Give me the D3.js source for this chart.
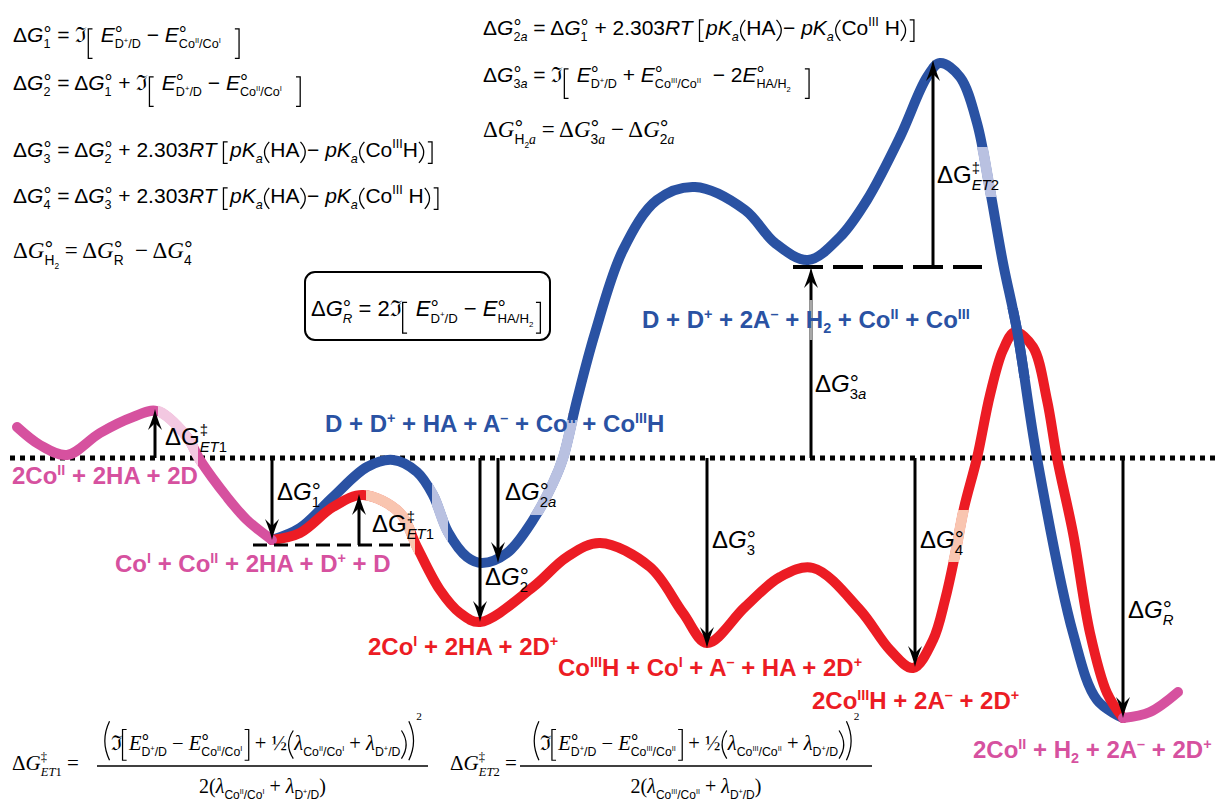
<!DOCTYPE html>
<html>
<head>
<meta charset="utf-8">
<title>Free energy diagram</title>
<script src="https://cdn.jsdelivr.net/npm/d3@7"></script>
<style>
  html, body { margin: 0; padding: 0; background: #fff; }
  svg text { white-space: pre; }
</style>
</head>
<body>
<script>
'use strict';

// [reaction coordinate, free energy] with 0 = starting state (dotted line)
const pinkStart = [[1.7, 3.1], [4.0, 1.3], [6.7, 0.3], [10.0, 2.5], [13.3, 4.1], [15.7, 4.7],
  [18.7, 2.1], [20.0, -0.2], [22.7, -3.9], [24.7, -6.2], [27.2, -8.2]];
const pinkEnd = [[112.3, -26.0], [115.0, -25.4], [117.8, -23.4]];
const redPath = [[27.2, -8.2], [30.0, -7.5], [33.3, -4.9], [36.3, -3.7], [40.0, -5.5], [41.7, -8.9],
  [44.0, -13.2], [46.0, -15.5], [48.0, -16.4], [53.3, -12.9], [56.7, -9.9], [60.0, -8.5],
  [65.0, -10.9], [68.3, -15.5], [70.7, -18.5], [74.5, -14.9], [78.0, -11.9], [81.3, -11.0],
  [86.0, -15.2], [89.0, -19.2], [91.3, -21.0], [93.3, -18.2], [94.5, -14.2], [95.5, -9.7],
  [96.4, -5.0], [97.7, 0.0], [99.0, 6.3], [100.3, 10.8], [101.5, 12.6], [103.3, 11.1],
  [104.7, 5.8], [105.7, 0.0], [107.3, -7.5], [109.0, -17.5], [110.7, -23.5], [112.3, -26.0]];
const bluePath = [[27.2, -8.2], [30.0, -7.0], [33.3, -3.9], [36.7, -0.9], [39.3, -0.2], [41.7, -1.4],
  [43.3, -3.7], [44.8, -7.4], [46.7, -9.9], [48.2, -10.5], [50.7, -9.5], [53.3, -6.2],
  [55.3, -2.5], [56.3, 0.0], [57.7, 5.8], [59.5, 12.5], [62.3, 20.8], [65.7, 25.8],
  [69.5, 27.1], [74.5, 24.8], [77.5, 21.5], [80.8, 19.8], [84.0, 22.1], [86.7, 25.8],
  [90.0, 32.1], [92.7, 38.1], [94.0, 39.5], [96.0, 38.1], [97.7, 33.5], [99.0, 26.8],
  [100.3, 19.5], [101.7, 12.8], [103.7, 0.0], [107.3, -17.5], [109.7, -24.2], [112.3, -26.0]];

// transition-state stretches drawn in the pale tint
const lightSpans = [
  { curve: 'pink', x0: 15.8, x1: 19.8, e0: -3, e1: 7 },
  { curve: 'red', x0: 36.6, x1: 41.5, e0: -12, e1: 0 },
  { curve: 'blue', x0: 43.2, x1: 44.8, e0: -12, e1: 2 },
  { curve: 'blue', x0: 52.0, x1: 59.0, e0: -5.7, e1: 3.8 },
  { curve: 'red', x0: 94.0, x1: 97.5, e0: -10.4, e1: -5.2 },
  { curve: 'blue', x0: 97.0, x1: 100.5, e0: 26.1, e1: 31.1 }
];

const refLine = [1.0, 121.5];
const dashedRefs = [[25.3, 41.0, -8.7], [79.3, 98.2, 19.1]];

const arrows = [
  [15.5, 0, 4.9], [27.2, 0, -8.2], [35.9, -8.7, -3.6], [48.0, 0, -16.4], [49.8, 0, -10.5],
  [70.7, 0, -19.0], [91.5, 0, -20.9], [112.3, 0, -26.0], [81.1, 0, 19.1], [93.3, 19.1, 39.8]
];
const arrowGrey = [81.1, 11.8, 15.8];

const arrowLabels = [
  [String.raw`Δ\n{G}^{‡}_{\i{ET}1}`, 16.5, 1.3],
  [String.raw`Δ\i{G}^{°}_{1}`, 27.7, -4.2],
  [String.raw`Δ\n{G}^{‡}_{\i{ET}1}`, 37.2, -7.4],
  [String.raw`Δ\i{G}^{°}_{2\i{a}}`, 50.5, -4.2],
  [String.raw`Δ\i{G}^{°}_{2}`, 48.5, -12.7],
  [String.raw`Δ\i{G}^{°}_{3}`, 71.2, -9.0],
  [String.raw`Δ\i{G}^{°}_{4}`, 92.0, -9.0],
  [String.raw`Δ\i{G}^{°}_{\i{R}}`, 112.8, -16.0],
  [String.raw`Δ\i{G}^{°}_{3\i{a}}`, 81.5, 6.6],
  [String.raw`Δ\n{G}^{‡}_{\i{ET}2}`, 93.7, 27.5]
];

const species = [
  ['2Co^{II} + 2HA + 2D', 'pink', 1.2, -2.6],
  ['Co^{I} + Co^{II} + 2HA + D^{+} + D', 'pink', 11.5, -11.4],
  ['D + D^{+} + HA + A^{–} + Co^{II} + Co^{III}H', 'blue', 32.5, 2.6],
  ['2Co^{I} + 2HA + 2D^{+}', 'red', 36.8, -19.7],
  ['Co^{III}H + Co^{I} + A^{–} + HA + 2D^{+}', 'red', 55.8, -21.8],
  ['2Co^{III}H + 2A^{–} + 2D^{+}', 'red', 81.2, -25.1],
  ['2Co^{II} + H_{2} + 2A^{–} + 2D^{+}', 'pink', 97.3, -30.0],
  ['D + D^{+} + 2A^{–} + H_{2} + Co^{II} + Co^{III}', 'blue', 64.2, 13.0]
];

const leftEquations = [
  String.raw`Δ\i{G}^{°}_{1} = ℑ\D{[,0.62,0.78} \i{E}^{°}_{D^{+}/D} − \i{E}^{°}_{Co^{II}/Co^{I}}  \D{],0.62,0.78}`,
  String.raw`Δ\i{G}^{°}_{2} = Δ\i{G}^{°}_{1} + ℑ\D{[,0.62,0.78} \i{E}^{°}_{D^{+}/D} − \i{E}^{°}_{Co^{II}/Co^{I}}  \D{],0.62,0.78}`,
  String.raw`Δ\i{G}^{°}_{3} = Δ\i{G}^{°}_{2} + 2.303\i{RT} \D{[,0.72,0.3}\i{pK}_{\i{a}}\D{(,0.72,0.28}HA\D{),0.72,0.28}− \i{pK}_{\i{a}}\D{(,0.72,0.28}Co^{III}H\D{),0.72,0.28}\D{],0.72,0.3}`,
  String.raw`Δ\i{G}^{°}_{4} = Δ\i{G}^{°}_{3} + 2.303\i{RT} \D{[,0.72,0.3}\i{pK}_{\i{a}}\D{(,0.72,0.28}HA\D{),0.72,0.28}− \i{pK}_{\i{a}}\D{(,0.72,0.28}Co^{III} H\D{),0.72,0.28}\D{],0.72,0.3}`
];
const leftEquationSerif = String.raw`Δ\i{G}^{°}_{\s{H_{2}}} = Δ\i{G}^{°}_{\s{R}}  − Δ\i{G}^{°}_{\s{4}}`;
const rightEquations = [
  String.raw`Δ\i{G}^{°}_{2\i{a}} = Δ\i{G}^{°}_{1} + 2.303\i{RT} \D{[,0.72,0.3}\i{pK}_{\i{a}}\D{(,0.72,0.28}HA\D{),0.72,0.28}− \i{pK}_{\i{a}}\D{(,0.72,0.28}Co^{III} H\D{),0.72,0.28}\D{],0.72,0.3}`,
  String.raw`Δ\i{G}^{°}_{3\i{a}} = ℑ\D{[,0.62,0.78} \i{E}^{°}_{D^{+}/D} + \i{E}^{°}_{Co^{III}/Co^{II}}  − 2\i{E}^{°}_{HA/H_{2}}  \D{],0.62,0.78}`
];
const rightEquationSerif = String.raw`Δ\i{G}^{°}_{\s{H_{2}}\i{a}} = Δ\i{G}^{°}_{\s{3}\i{a}} − Δ\i{G}^{°}_{\s{2}\i{a}}`;
const boxEquation = String.raw`Δ\i{G}^{°}_{\i{R}} = 2ℑ\D{[,0.62,0.78} \i{E}^{°}_{D^{+}/D} − \i{E}^{°}_{HA/H_{2}}\D{],0.62,0.78}`;
const marcus = [
  {
    lhs: String.raw`Δ\i{G}^{‡}_{\i{ET}1} =`,
    num: String.raw`\D{(,1.4,0.5}ℑ\D{[,1.0,0.5}\i{E}^{°}_{\s{D^{+}/D}} − \i{E}^{°}_{\s{Co^{II}/Co^{I}}}\D{],1.0,0.5} + ½\D{(,0.95,0.42}\i{λ}_{\s{Co^{II}/Co^{I}}} + \i{λ}_{\s{D^{+}/D}}\D{),0.95,0.42}\D{),1.4,0.5}\H{2}`,
    den: String.raw`2(\i{λ}_{\s{Co^{II}/Co^{I}}} + \i{λ}_{\s{D^{+}/D}})`
  },
  {
    lhs: String.raw`Δ\i{G}^{‡}_{\i{ET}2} =`,
    num: String.raw`\D{(,1.4,0.5}ℑ\D{[,1.0,0.5}\i{E}^{°}_{\s{D^{+}/D}} − \i{E}^{°}_{\s{Co^{III}/Co^{II}}}\D{],1.0,0.5} + ½\D{(,0.95,0.42}\i{λ}_{\s{Co^{III}/Co^{II}}} + \i{λ}_{\s{D^{+}/D}}\D{),0.95,0.42}\D{),1.4,0.5}\H{2}`,
    den: String.raw`2(\i{λ}_{\s{Co^{III}/Co^{II}}} + \i{λ}_{\s{D^{+}/D}})`
  }
];

const colors = { pink: '#d6519f', red: '#ec1c24', blue: '#2a52a3' };
const tints = { pink: '#f3c8e1', red: '#f9c5b0', blue: '#b9c1e1' };

const SANS = "'Liberation Sans', Arial, Helvetica, sans-serif";
const SERIF = "'Liberation Serif', 'Times New Roman', Times, serif";

const W = 1219;
const H = 801;

const x = d3.scaleLinear().domain([0, 121.9]).range([0, W]);
const y = d3.scaleLinear().domain([45.8, -34.3]).range([0, H]);

const svg = d3.select('body')
  .append('svg')
  .attr('width', W)
  .attr('height', H)
  .style('background', '#fff');

// ---- tiny math typesetter: \i{} italic, \n{} upright, \s{} sans, \t{} serif,
// ^{} / _{} scripts (stacked when ^{}_{}), \D{type,up,down} delimiters, \H{} exponent
function grab(s, j) {
  let depth = 0;
  for (let k = j; k < s.length; k++) {
    if (s[k] === '{') depth++;
    else if (s[k] === '}') {
      depth--;
      if (depth === 0) return [s.slice(j + 1, k), k + 1];
    }
  }
  return [s.slice(j + 1), s.length];
}

function delim(g, type, x0, y0, size, up, down, st) {
  const top = y0 - up * size;
  const bot = y0 + down * size;
  const adv = size * 0.36;
  const w = size * 0.2;
  let d;
  if (type === '[') d = `M${x0 + w + 1},${top}H${x0 + 1}V${bot}H${x0 + w + 1}`;
  if (type === ']') d = `M${x0 + adv - w - 1},${top}H${x0 + adv - 1}V${bot}H${x0 + adv - w - 1}`;
  if (type === '(') d = `M${x0 + adv - 1},${top}Q${x0 - 3},${(top + bot) / 2} ${x0 + adv - 1},${bot}`;
  if (type === ')') d = `M${x0 + 1},${top}Q${x0 + adv + 3},${(top + bot) / 2} ${x0 + 1},${bot}`;
  g.append('path')
    .attr('d', d)
    .attr('fill', 'none')
    .attr('stroke', st.fill)
    .attr('stroke-width', Math.max(1.1, size * 0.06));
  return adv;
}

function run(g, s, x0, y0, size, st) {
  let cx = x0;
  let buf = '';
  let j = 0;
  const flush = () => {
    if (!buf) return;
    const t = g.append('text')
      .attr('xml:space', 'preserve')
      .attr('x', cx)
      .attr('y', y0)
      .attr('font-family', st.family)
      .attr('font-size', size)
      .attr('font-style', st.italic ? 'italic' : 'normal')
      .attr('font-weight', st.weight)
      .attr('fill', st.fill)
      .text(buf);
    cx += t.node().getComputedTextLength();
    buf = '';
  };
  while (j < s.length) {
    const c = s[j];
    if (c === '\\') {
      const cmd = s[j + 1];
      flush();
      const [inner, nj] = grab(s, j + 2);
      if (cmd === 'D') {
        const [type, up, down] = inner.split(',');
        cx += delim(g, type, cx, y0, size, +up, +down, st);
      } else if (cmd === 'H') {
        cx += run(g, inner, cx + 1, y0 - size * 1.45, size * 0.55, st) + 1;
      } else {
        const st2 = Object.assign({}, st);
        if (cmd === 'i') st2.italic = true;
        if (cmd === 'n') st2.italic = false;
        if (cmd === 's') st2.family = SANS;
        if (cmd === 't') st2.family = SERIF;
        cx += run(g, inner, cx, y0, size, st2);
      }
      j = nj;
      continue;
    }
    if (c === '^' || c === '_') {
      flush();
      let sup = null;
      let sub = null;
      let [inner, nj] = grab(s, j + 1);
      if (c === '^') sup = inner; else sub = inner;
      if (c === '^' && s[nj] === '_') {
        const r = grab(s, nj + 1);
        sub = r[0];
        nj = r[1];
      }
      let w1 = 0;
      let w2 = 0;
      if (sup !== null) {
        if (sup === '°') {
          w1 = run(g, '°', cx, y0 - size * 0.05, size * 0.95,
            Object.assign({}, st, { italic: false, family: SANS, weight: 'normal' }));
        } else {
          w1 = run(g, sup, cx, y0 - size * st.supShift, size * st.supScale, st);
        }
      }
      if (sub !== null) w2 = run(g, sub, cx, y0 + size * st.subShift, size * st.subScale, st);
      cx += Math.max(w1, w2);
      j = nj;
      continue;
    }
    buf += c;
    j++;
  }
  flush();
  return cx - x0;
}

function typeset(parent, src, x0, y0, size, st) {
  const g = parent.append('g');
  const w = run(g, src, x0, y0, size, st);
  return { g, w };
}

const mathSans = { family: SANS, italic: false, weight: 'normal', fill: '#000',
  supScale: 0.6, supShift: 0.42, subScale: 0.6, subShift: 0.3 };
const mathSerif = Object.assign({}, mathSans, { family: SERIF });

// ---- reference line
svg.append('line')
  .attr('x1', x(refLine[0]))
  .attr('x2', x(refLine[1]))
  .attr('y1', y(0))
  .attr('y2', y(0))
  .attr('stroke', '#000')
  .attr('stroke-width', 5)
  .attr('stroke-dasharray', '5,5');

// ---- curves
const curve = d3.line()
  .x((d) => x(d[0]))
  .y((d) => y(d[1]))
  .curve(d3.curveCatmullRom.alpha(0.5));

const defs = svg.append('defs');
lightSpans.forEach((s, i) => {
  defs.append('clipPath')
    .attr('id', 'tint' + i)
    .append('rect')
    .attr('x', x(s.x0))
    .attr('y', y(s.e1))
    .attr('width', x(s.x1) - x(s.x0))
    .attr('height', y(s.e0) - y(s.e1));
});
defs.append('clipPath')
  .attr('id', 'blueOver')
  .append('rect')
  .attr('x', x(99.5))
  .attr('y', y(15))
  .attr('width', x(103.5) - x(99.5))
  .attr('height', y(8) - y(15));

const paths = { pink: [pinkStart, pinkEnd], red: [redPath], blue: [bluePath] };
const strokeW = 10;

function drawCurve(name) {
  const g = svg.append('g');
  paths[name].forEach((p) => {
    g.append('path')
      .attr('d', curve(p))
      .attr('fill', 'none')
      .attr('stroke', colors[name])
      .attr('stroke-width', strokeW)
      .attr('stroke-linecap', 'round');
  });
  lightSpans.forEach((s, i) => {
    if (s.curve !== name) return;
    paths[name].forEach((p) => {
      g.append('path')
        .attr('d', curve(p))
        .attr('clip-path', `url(#tint${i})`)
        .attr('fill', 'none')
        .attr('stroke', tints[name])
        .attr('stroke-width', strokeW + 0.6);
    });
  });
}

drawCurve('blue');
drawCurve('red');
drawCurve('pink');

// blue passes over the red summit
svg.append('path')
  .attr('d', curve(bluePath))
  .attr('clip-path', 'url(#blueOver)')
  .attr('fill', 'none')
  .attr('stroke', colors.blue)
  .attr('stroke-width', strokeW);

// ---- dashed levels
const dashStyles = ['14,7', '30,10'];
dashedRefs.forEach((d, i) => {
  svg.append('line')
    .attr('x1', x(d[0]))
    .attr('x2', x(d[1]))
    .attr('y1', y(d[2]))
    .attr('y2', y(d[2]))
    .attr('stroke', '#000')
    .attr('stroke-width', i === 0 ? 3 : 4)
    .attr('stroke-dasharray', dashStyles[i]);
});

// ---- arrows
const arrowG = svg.append('g');
arrows.forEach((a) => {
  const px = x(a[0]);
  const y0 = y(a[1]);
  const y1 = y(a[2]);
  const s = y1 > y0 ? 1 : -1;
  arrowG.append('line')
    .attr('x1', px)
    .attr('x2', px)
    .attr('y1', y0)
    .attr('y2', y1 - s * 12)
    .attr('stroke', '#000')
    .attr('stroke-width', 3);
  arrowG.append('path')
    .attr('transform', `translate(${px},${y1})`)
    .attr('d', `M0,0Q-2,${-9 * s} -7,${-21 * s}L0,${-14 * s}L7,${-21 * s}Q2,${-9 * s} 0,0Z`)
    .attr('fill', '#000');
});
arrowG.append('line')
  .attr('x1', x(arrowGrey[0]))
  .attr('x2', x(arrowGrey[0]))
  .attr('y1', y(arrowGrey[1]))
  .attr('y2', y(arrowGrey[2]))
  .attr('stroke', '#a8a8a8')
  .attr('stroke-width', 3);

// ---- labels
const labelStyle = Object.assign({}, mathSans, { supScale: 0.62, supShift: 0.42, subScale: 0.62, subShift: 0.28 });
arrowLabels.forEach((l) => {
  typeset(svg, l[0], x(l[1]), y(l[2]), 24, labelStyle);
});

species.forEach((s) => {
  typeset(svg, s[0], x(s[2]), y(s[3]), 24, {
    family: SANS, italic: false, weight: 'bold', fill: colors[s[1]],
    supScale: 0.6, supShift: 0.38, subScale: 0.6, subShift: 0.22
  });
});

// ---- equations
const leftBaselines = [42, 90, 157, 203];
leftEquations.forEach((src, i) => typeset(svg, src, 13, leftBaselines[i], 21, mathSans));
typeset(svg, leftEquationSerif, 13, 258, 23, mathSerif);

const rightBaselines = [35, 82];
rightEquations.forEach((src, i) => typeset(svg, src, 483, rightBaselines[i], 21, mathSans));
typeset(svg, rightEquationSerif, 483, 137, 23, mathSerif);

svg.append('rect')
  .attr('x', 305)
  .attr('y', 272)
  .attr('width', 245)
  .attr('height', 68)
  .attr('rx', 10)
  .attr('fill', 'none')
  .attr('stroke', '#000')
  .attr('stroke-width', 2);
typeset(svg, boxEquation, 311, 316, 22, mathSans);

const marcusLayout = [[12, 97, 428], [450, 520, 872]];
marcus.forEach((m, i) => {
  const [lx, b0, b1] = marcusLayout[i];
  typeset(svg, m.lhs, lx, 770, 21, mathSerif);
  const num = typeset(svg, m.num, 0, 750, 20.5, mathSerif);
  num.g.attr('transform', `translate(${(b0 + b1) / 2 - num.w / 2},0)`);
  const den = typeset(svg, m.den, 0, 793, 20, mathSerif);
  den.g.attr('transform', `translate(${(b0 + b1) / 2 - den.w / 2},0)`);
  svg.append('line')
    .attr('x1', b0)
    .attr('x2', b1)
    .attr('y1', 766)
    .attr('y2', 766)
    .attr('stroke', '#000')
    .attr('stroke-width', 1.5);
});
</script>
</body>
</html>
